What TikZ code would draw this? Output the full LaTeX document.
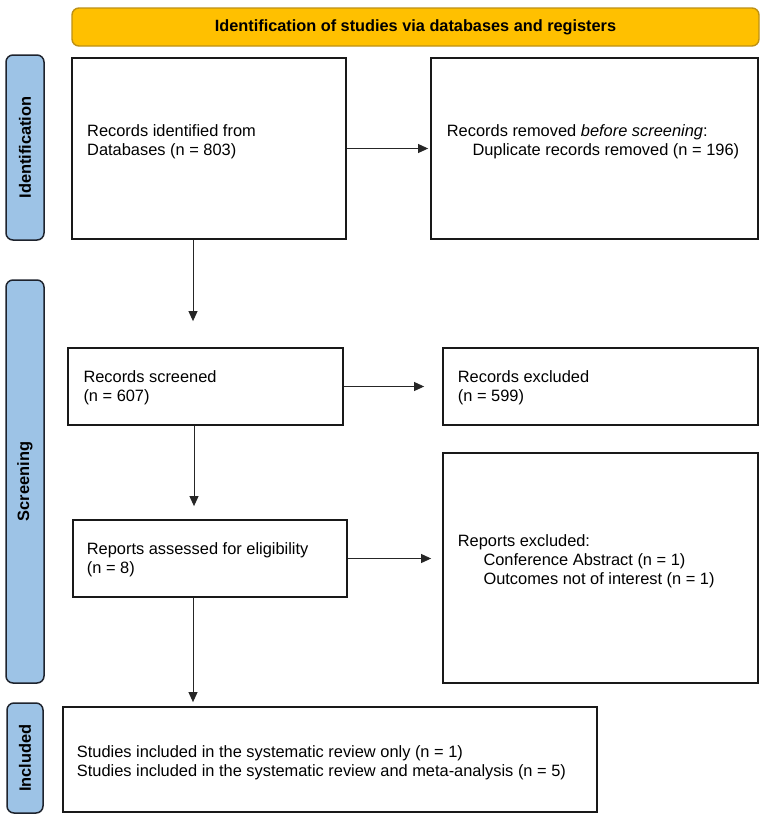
\documentclass[tikz,border=0pt]{standalone}
\usepackage{fontspec}
\setmainfont{Liberation Sans}
\usetikzlibrary{arrows.meta}
\definecolor{bannerfill}{RGB}{255,192,0}
\definecolor{bannerline}{RGB}{190,145,20}
\definecolor{phasefill}{RGB}{157,195,230}
\definecolor{phaseline}{RGB}{30,35,45}
\definecolor{boxline}{RGB}{25,25,25}
\begin{document}
\begin{tikzpicture}[x=1pt,y=-1pt,
  box/.style={draw=boxline, line width=1.8pt, fill=white, inner sep=0pt},
  banner/.style={draw=bannerline, line width=1.4pt, fill=bannerfill, rounded corners=7pt, inner sep=0pt, font=\fontsize{16.3}{19}\selectfont\bfseries},
  phase/.style={draw=phaseline, line width=1.5pt, fill=phasefill, rounded corners=7pt, inner sep=0pt, font=\fontsize{16.4}{19}\selectfont\bfseries},
  txt/.style={anchor=base west, inner sep=0pt, font=\fontsize{16.4}{19}\selectfont},
  arr/.style={-{Triangle[length=10pt,width=9pt]}, line width=0.9pt, draw=black!85}]
\useasboundingbox (0,0) rectangle (767,820);
\fill[white] (0,0) rectangle (767,820);

% banner
\node[banner, minimum width=687pt, minimum height=38pt] (ban) at (415.5,27) {Identification of studies via databases and registers};

% phase bars
\node[phase, rotate=90, minimum width=185pt, minimum height=38pt] (pid) at (25,147.5) {Identification};
\node[phase, rotate=90, minimum width=403pt, minimum height=38pt] (pscr) at (25,481.5) {Screening};
\node[phase, rotate=90, minimum width=110pt, minimum height=36pt] (pinc) at (25,758) {Included};

% boxes
\node[box, minimum width=274pt, minimum height=181pt] (id) at (209,148.5) {};
\node[box, minimum width=327pt, minimum height=181pt] (rem) at (594.5,148.5) {};
\node[box, minimum width=275pt, minimum height=77pt] (scr) at (205.5,386.5) {};
\node[box, minimum width=315pt, minimum height=77pt] (exc) at (600.5,386.5) {};
\node[box, minimum width=274pt, minimum height=77pt] (asr) at (210,558.5) {};
\node[box, minimum width=315pt, minimum height=230pt] (rex) at (600.5,568) {};
\node[box, minimum width=534pt, minimum height=105pt] (inc) at (330,759.5) {};

% texts
\node[txt] (tid) at (87,136) {\begin{tabular}[t]{@{}l@{}}Records identified from\\Databases (n = 803)\end{tabular}};
\node[txt] (trem) at (446.7,136) {\begin{tabular}[t]{@{}l@{}}Records removed \textit{before screening}:\\\hspace*{25.6pt}Duplicate records removed (n = 196)\end{tabular}};
\node[txt] (tscr) at (83.3,382) {\begin{tabular}[t]{@{}l@{}}Records screened\\(n = 607)\end{tabular}};
\node[txt] (texc) at (457.7,382) {\begin{tabular}[t]{@{}l@{}}Records excluded\\(n = 599)\end{tabular}};
\node[txt] (tasr) at (86.7,554) {\begin{tabular}[t]{@{}l@{}}Reports assessed for eligibility\\(n = 8)\end{tabular}};
\node[txt] (trex) at (457.7,546) {\begin{tabular}[t]{@{}l@{}}Reports excluded:\\\hspace*{25.6pt}Conference Abstract (n = 1)\\\hspace*{25.6pt}Outcomes not of interest (n = 1)\end{tabular}};
\node[txt] (tinc) at (76.7,757) {\begin{tabular}[t]{@{}l@{}}Studies included in the systematic review only (n = 1)\\Studies included in the systematic review and meta-analysis (n = 5)\end{tabular}};

% columns for vertical arrows
\coordinate (c1) at (193,0);
\coordinate (c2) at (194,0);

% arrows
\draw[arr, shorten >=2pt] (id.east) -- (rem.west);
\draw[arr, shorten >=26pt] (id.south -| c1) -- (scr.north -| c1);
\draw[arr, shorten >=18pt] (scr.east) -- (scr.east -| exc.west);
\draw[arr, shorten >=13pt] (scr.south -| c2) -- (asr.north -| c2);
\draw[arr, shorten >=11pt] (asr.east) -- (asr.east -| rex.west);
\draw[arr, shorten >=4pt] (asr.south -| c1) -- (inc.north -| c1);
\end{tikzpicture}
\end{document}
